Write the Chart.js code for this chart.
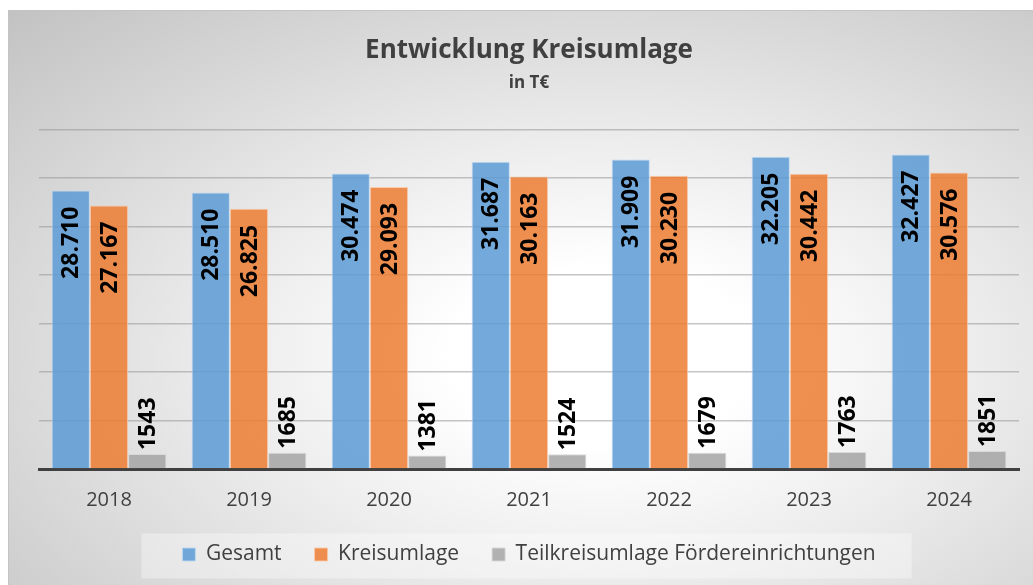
<!DOCTYPE html>
<html lang="de">
<head>
<meta charset="utf-8">
<title>Entwicklung Kreisumlage</title>
<script src="https://cdn.jsdelivr.net/npm/chart.js@4/dist/chart.umd.min.js"></script>
<style>
  html, body { margin: 0; padding: 0; background: #fff; }
  #frame {
    position: absolute; left: 8px; top: 10px;
    width: 1025px; height: 575px;
    border-top: 1px solid #c4c4c4; border-left: 1px solid #c4c4c4;
    background: radial-gradient(ellipse farthest-corner at 58% 60%, #ffffff 0%, #ffffff 18%, #ececec 45%, #c2c2c2 100%);
  }
  #chart { display: block; }
</style>
</head>
<body>
<div id="frame"><canvas id="chart" width="1025" height="575"></canvas></div>
<script>
// ── DATA ──
const years = ['2018', '2019', '2020', '2021', '2022', '2023', '2024'];
const gesamt = [28710, 28510, 30474, 31687, 31909, 32205, 32427];
const kreisumlage = [27167, 26825, 29093, 30163, 30230, 30442, 30576];
const teilkreisumlage = [1543, 1685, 1381, 1524, 1679, 1763, 1851];
const seriesNames = ['Gesamt', 'Kreisumlage', 'Teilkreisumlage Fördereinrichtungen'];

const FONT = "'Open Sans', 'Noto Sans', sans-serif";

// german thousands separator for the big values, plain for the small ones
const fmt = (v, dot) => dot ? v.toLocaleString('de-DE') : String(v);

// light box behind the legend items
const legendBox = {
  id: 'legendBox',
  beforeDraw(chart) {
    const boxes = chart.legend && chart.legend.legendHitBoxes;
    if (!boxes || !boxes.length) return;
    const left = Math.min(...boxes.map(b => b.left)) - 41;
    const right = Math.max(...boxes.map(b => b.left + b.width)) + 36;
    const mid = boxes[0].top + boxes[0].height / 2;
    const { ctx } = chart;
    ctx.save();
    ctx.fillStyle = 'rgba(255,255,255,0.35)';
    ctx.fillRect(left, mid - 21, right - left, 45);
    ctx.restore();
  }
};

// rotated value labels: inside end for the big bars, outside end for the small ones
const barLabels = {
  id: 'barLabels',
  afterDatasetsDraw(chart) {
    const { ctx } = chart;
    ctx.save();
    ctx.fillStyle = '#000';
    ctx.font = `bold 23px ${FONT}`;
    ctx.textBaseline = 'middle';
    chart.data.datasets.forEach((ds, i) => {
      const meta = chart.getDatasetMeta(i);
      meta.data.forEach((bar, j) => {
        const v = ds.data[j];
        ctx.save();
        if (i < 2) {
          ctx.translate(bar.x, bar.y + 16);
          ctx.rotate(-Math.PI / 2);
          ctx.textAlign = 'right';
          ctx.fillText(fmt(v, true), 0, 1);
        } else {
          ctx.translate(bar.x, bar.y - 4);
          ctx.rotate(-Math.PI / 2);
          ctx.textAlign = 'left';
          ctx.fillText(fmt(v, false), 0, 1);
        }
        ctx.restore();
      });
    });
    ctx.restore();
  }
};

window.addEventListener('DOMContentLoaded', () => {
  const ctx = document.getElementById('chart').getContext('2d');
  new Chart(ctx, {
    type: 'bar',
    data: {
      labels: years,
      datasets: [
        {
          label: seriesNames[0],
          data: gesamt,
          backgroundColor: 'rgba(91,155,213,0.85)',
          borderColor: 'rgba(190,215,240,0.9)',
          borderWidth: 1,
        },
        {
          label: seriesNames[1],
          data: kreisumlage,
          backgroundColor: 'rgba(237,125,49,0.85)',
          borderColor: 'rgba(248,200,165,0.9)',
          borderWidth: 1,
        },
        {
          label: seriesNames[2],
          data: teilkreisumlage,
          backgroundColor: 'rgba(165,165,165,0.85)',
          borderColor: 'rgba(215,215,215,0.9)',
          borderWidth: 1,
        },
      ],
    },
    options: {
      responsive: false,
      animation: false,
      layout: { padding: { left: 30, right: 15, top: 0, bottom: 11 } },
      datasets: {
        bar: { barPercentage: 1, categoryPercentage: 0.82 },
      },
      plugins: {
        title: {
          display: true,
          text: 'Entwicklung Kreisumlage',
          color: '#404040',
          font: { family: FONT, size: 26, weight: 'bold' },
          padding: { top: 24, bottom: 2 },
        },
        subtitle: {
          display: true,
          text: 'in T€',
          color: '#404040',
          font: { family: FONT, size: 17, weight: 'bold' },
          padding: { top: 5, bottom: 36 },
        },
        legend: {
          position: 'bottom',
          labels: {
            color: '#404040',
            font: { family: FONT, size: 21 },
            boxWidth: 13,
            boxHeight: 13,
            padding: 33,
          },
        },
        tooltip: { enabled: false },
      },
      scales: {
        x: {
          grid: { display: false },
          border: { display: true, color: '#404040', width: 3 },
          ticks: { color: '#404040', font: { family: FONT, size: 20 }, padding: 11 },
          afterFit: scale => { scale.height = 42; },
        },
        y: {
          min: 0,
          max: 35000,
          ticks: { display: false, stepSize: 5000 },
          grid: { color: 'rgba(150,150,150,0.55)', lineWidth: 1.5, drawTicks: false },
          border: { display: false },
        },
      },
    },
    plugins: [legendBox, barLabels],
  });
});
</script>
</body>
</html>
